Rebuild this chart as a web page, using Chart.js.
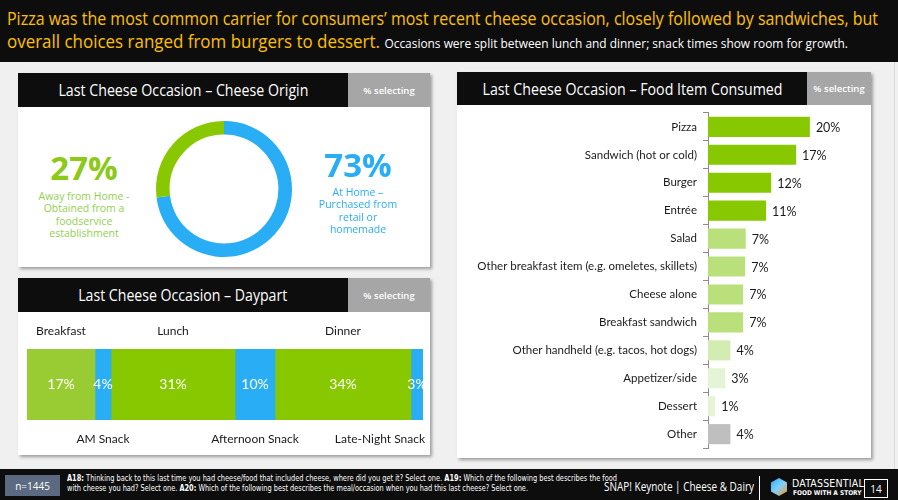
<!DOCTYPE html>
<html>
<head>
<meta charset="utf-8">
<script src="https://cdn.jsdelivr.net/npm/chart.js@4.4.1/dist/chart.umd.min.js"></script>
<style>
  html,body{margin:0;padding:0;}
  body{width:898px;height:500px;background:#f0f0f0;position:relative;overflow:hidden;font-family:"Open Sans","Noto Sans",sans-serif;}
  .abs{position:absolute;}
  #top{left:0;top:0;width:898px;height:62px;background:#0d0d0d;}
  .fit{white-space:nowrap;transform-origin:0 50%;}
  .panel{background:#fff;box-shadow:2px 2px 3px rgba(0,0,0,0.35);}
  .phead{background:#0d0d0d;color:#fff;font-size:15.5px;display:flex;align-items:center;justify-content:center;}
  .psel{background:#a6a6a6;color:#fff;font-size:9.5px;display:flex;align-items:center;justify-content:center;font-weight:600;}
  .big{font-weight:700;font-size:33px;text-align:center;line-height:36px;}
  .sub{font-size:10.5px;text-align:center;line-height:12.4px;}
  #foot{left:0;top:469px;width:898px;height:31px;background:#0d0d0d;}
  .narrow{font-family:"Liberation Sans Narrow","DejaVu Sans Condensed",sans-serif;}
</style>
</head>
<body>
<script>
// ---------- DATA ----------
const originLabels = ["At Home – Purchased from retail or homemade", "Away from Home - Obtained from a foodservice establishment"];
const originValues = [73, 27];

const daypartLabels = ["Breakfast", "AM Snack", "Lunch", "Afternoon Snack", "Dinner", "Late-Night Snack"];
const daypartValues = [17, 4, 31, 10, 34, 3];

const foodLabels = ["Pizza", "Sandwich (hot or cold)", "Burger", "Entrée", "Salad",
  "Other breakfast item (e.g. omeletes, skillets)", "Cheese alone", "Breakfast sandwich",
  "Other handheld (e.g. tacos, hot dogs)", "Appetizer/side", "Dessert", "Other"];
const foodValues = [20.0, 17.3, 12.4, 11.4, 7.4, 7.3, 6.9, 6.9, 4.4, 3.4, 1.4, 4.4];
</script>

<div id="top" class="abs"></div>
<div class="abs fit" data-w="871" style="left:7px;top:6px;color:#ffc000;font-size:18.5px;line-height:24px;">Pizza was the most common carrier for consumers’ most recent cheese occasion, closely followed by sandwiches, but</div>
<div class="abs fit" data-w="841" style="left:7px;top:29px;color:#ffc000;font-size:18.5px;line-height:24px;">overall choices ranged from burgers to dessert. <span style="color:#fff;font-size:13px;">Occasions were split between lunch and dinner; snack times show room for growth.</span></div>
<div class="abs" style="left:894px;top:62px;width:1px;height:407px;background:#dcdcdc;"></div>

<!-- Panel 1 -->
<div class="abs panel" style="left:18px;top:73px;width:412px;height:194px;"></div>
<div class="abs phead" style="left:18px;top:73px;width:330px;height:34px;"><span class="fit" data-w="250">Last Cheese Occasion – Cheese Origin</span></div>
<div class="abs psel" style="left:348px;top:73px;width:82px;height:34px;">% selecting</div>
<div class="abs" style="left:149px;top:114px;width:150px;height:150px;"><canvas id="donut"></canvas></div>
<div class="abs big" style="left:24px;top:150px;width:120px;color:#8cc919;" id="pctAway"></div>
<div class="abs sub" style="left:24px;top:190px;width:120px;color:#92d050;">Away from Home -<br>Obtained from a<br>foodservice<br>establishment</div>
<div class="abs big" style="left:298px;top:147px;width:120px;color:#29aef5;" id="pctHome"></div>
<div class="abs sub" style="left:298px;top:186px;width:120px;color:#29aef5;">At Home –<br>Purchased from<br>retail or<br>homemade</div>

<!-- Panel 2 -->
<div class="abs panel" style="left:18px;top:278px;width:412px;height:177px;"></div>
<div class="abs phead" style="left:18px;top:278px;width:330px;height:34px;"><span class="fit" data-w="209">Last Cheese Occasion – Daypart</span></div>
<div class="abs psel" style="left:348px;top:278px;width:82px;height:34px;">% selecting</div>
<div class="abs" style="left:18px;top:312px;width:412px;height:143px;"><canvas id="daypart"></canvas></div>

<!-- Panel 3 -->
<div class="abs panel" style="left:457px;top:72px;width:414px;height:386px;"></div>
<div class="abs phead" style="left:457px;top:72px;width:350px;height:33px;"><span class="fit" data-w="300">Last Cheese Occasion – Food Item Consumed</span></div>
<div class="abs psel" style="left:807px;top:72px;width:64px;height:33px;">% selecting</div>
<div class="abs" style="left:457px;top:100px;width:414px;height:361px;"><canvas id="food"></canvas></div>

<!-- Footer -->
<div id="foot" class="abs"></div>
<div class="abs" style="left:5px;top:475px;width:55px;height:21px;background:#5b6a80;color:#fff;font-size:10px;display:flex;align-items:center;justify-content:center;">n=1445</div>
<div class="abs narrow fit" data-w="550" style="left:67px;top:474px;color:#fff;font-size:8.6px;line-height:9.5px;"><b>A18:</b> Thinking back to this last time you had cheese/food that included cheese, where did you get it? Select one. <b>A19:</b> Which of the following best describes the food</div>
<div class="abs narrow fit" data-w="461" style="left:67px;top:483.5px;color:#fff;font-size:8.6px;line-height:9.5px;">with cheese you had? Select one. <b>A20:</b> Which of the following best describes the meal/occasion when you had this last cheese? Select one.</div>
<div class="abs fit" data-w="150" style="left:604px;top:478px;color:#fff;font-size:12.5px;line-height:18px;">SNAP! Keynote | Cheese &amp; Dairy</div>
<div class="abs" style="left:759px;top:476px;width:1px;height:24px;background:#fff;"></div>
<div class="abs" style="left:771px;top:478px;width:16px;height:18px;background:linear-gradient(135deg,#29aef5,#7fd0ff 50%,#f7941d);clip-path:polygon(50% 0,100% 25%,100% 75%,50% 100%,0 75%,0 25%);"></div>
<div class="abs narrow" style="left:792px;top:478px;color:#fff;font-size:10.5px;line-height:10px;letter-spacing:0.2px;">DATASSENTIAL</div>
<div class="abs narrow" style="left:793px;top:489px;color:#fff;font-size:6.5px;line-height:8px;font-weight:700;">FOOD WITH A STORY</div>
<div class="abs" style="left:864px;top:479px;width:22px;height:17px;border:1px solid #fff;color:#fff;font-size:10px;display:flex;align-items:center;justify-content:center;">14</div>

<script>
// fit text widths
document.querySelectorAll('.fit[data-w]').forEach(el => {
  el.style.display = 'inline-block';
  const w = el.getBoundingClientRect().width;
  const target = parseFloat(el.dataset.w);
  if (w > 0) el.style.transform = 'scaleX(' + (target / w) + ')';
  if (el.parentElement.classList.contains('phead')) el.style.transformOrigin = '50% 50%';
});

document.getElementById('pctAway').textContent = originValues[1] + '%';
document.getElementById('pctHome').textContent = originValues[0] + '%';

const FONT = 'Lato,"Open Sans",sans-serif';
const GREEN = '#88c800', BLUE = '#29aef5', YGREEN = '#99cc33';

// Donut
new Chart(document.getElementById('donut'), {
  type: 'doughnut',
  data: { labels: originLabels, datasets: [{ data: originValues, backgroundColor: [BLUE, GREEN], borderWidth: 0 }] },
  options: {
    responsive: true, maintainAspectRatio: false, animation: false,
    cutout: '80%', layout: { padding: 7 },
    plugins: { legend: { display: false }, tooltip: { enabled: false } }
  }
});

// Daypart stacked bar
const dpColors = [YGREEN, BLUE, GREEN, BLUE, GREEN, BLUE];
const dpTotal = daypartValues.reduce((a, b) => a + b, 0);
const daypartPlugin = {
  id: 'dpLabels',
  afterDatasetsDraw(chart) {
    const ctx = chart.ctx, area = chart.chartArea;
    ctx.save();
    ctx.save();
    ctx.beginPath(); ctx.rect(area.left, area.top, area.right - area.left, area.bottom - area.top); ctx.clip();
    ctx.fillStyle = '#fff'; ctx.font = '14px ' + FONT; ctx.textAlign = 'center'; ctx.textBaseline = 'middle';
    chart.data.datasets.forEach((ds, i) => {
      const el = chart.getDatasetMeta(i).data[0];
      ctx.fillText(ds.data[0] + '%', (el.base + el.x) / 2, el.y);
    });
    ctx.restore();
    ctx.fillStyle = '#1a1a1a'; ctx.font = '12px ' + FONT; ctx.textBaseline = 'middle';
    chart.data.datasets.forEach((ds, i) => {
      const el = chart.getDatasetMeta(i).data[0];
      const cx = (el.base + el.x) / 2;
      const w = ctx.measureText(ds.label).width;
      const x = Math.min(cx - w / 2, chart.width - 5 - w);
      const y = (i % 2 === 0) ? area.top - 18 : area.bottom + 19;
      ctx.textAlign = 'left';
      ctx.fillText(ds.label, x, y);
    });
    ctx.restore();
  }
};
new Chart(document.getElementById('daypart'), {
  type: 'bar',
  data: {
    labels: ['Daypart'],
    datasets: daypartLabels.map((l, i) => ({ label: l, data: [daypartValues[i]], backgroundColor: dpColors[i], borderWidth: 0, barPercentage: 1, categoryPercentage: 1 }))
  },
  options: {
    indexAxis: 'y', responsive: true, maintainAspectRatio: false, animation: false,
    layout: { padding: { left: 9, right: 7, top: 37, bottom: 35 } },
    scales: {
      x: { stacked: true, display: false, min: 0, max: dpTotal },
      y: { stacked: true, display: false }
    },
    plugins: { legend: { display: false }, tooltip: { enabled: false } }
  },
  plugins: [daypartPlugin]
});

// Food bar chart
const foodColors = [GREEN, GREEN, GREEN, GREEN, '#b9e07a', '#b9e07a', '#b9e07a', '#b9e07a', '#d3ecb1', '#e6f4d6', '#e6f4d6', '#bfbfbf'];
const foodValuePlugin = {
  id: 'foodVals',
  afterDatasetsDraw(chart) {
    const ctx = chart.ctx;
    ctx.save();
    ctx.fillStyle = '#1a1a1a'; ctx.font = '12.5px ' + FONT; ctx.textAlign = 'left'; ctx.textBaseline = 'middle';
    chart.getDatasetMeta(0).data.forEach((el, i) => {
      ctx.fillText(Math.round(foodValues[i]) + '%', el.x + 6, el.y + 1);
    });
    ctx.restore();
  }
};
new Chart(document.getElementById('food'), {
  type: 'bar',
  data: { labels: foodLabels, datasets: [{ data: foodValues, backgroundColor: foodColors, borderWidth: 0, barPercentage: 1, categoryPercentage: 0.72 }] },
  options: {
    indexAxis: 'y', responsive: true, maintainAspectRatio: false, animation: false,
    layout: { padding: 0 },
    scales: {
      x: { display: false, min: 0, max: 32 },
      y: {
        afterFit(scale) { scale.width = 251; },
        border: { display: true, color: '#8c8c8c', width: 1 },
        grid: { display: true, drawOnChartArea: false, drawTicks: true, tickLength: 5, color: '#8c8c8c', offset: true },
        ticks: { color: '#1a1a1a', font: { family: FONT, size: 11.5 }, padding: 6, autoSkip: false }
      }
    },
    plugins: { legend: { display: false }, tooltip: { enabled: false } }
  },
  plugins: [foodValuePlugin]
});
</script>
</body>
</html>
